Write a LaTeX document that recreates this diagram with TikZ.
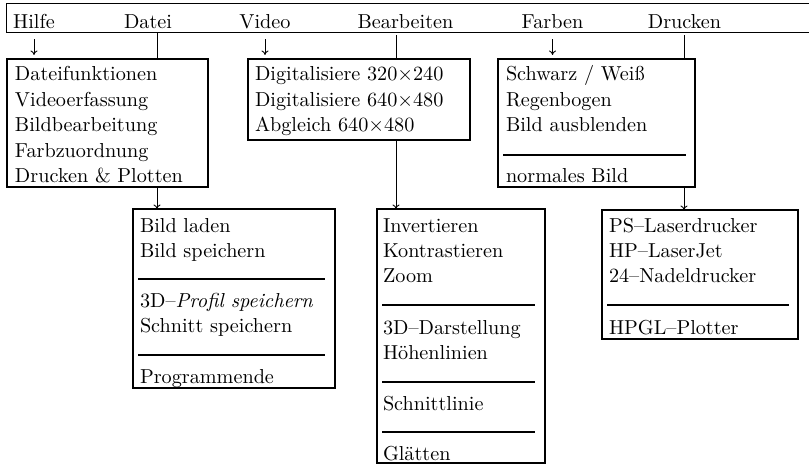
\documentclass[tikz,border=0pt]{standalone}
\usetikzlibrary{arrows.meta,fit}
\tikzset{
  px/.style={x=0.495pt,y=-0.495pt},
  box/.style={draw, line width=0.6pt, inner sep=0pt, outer sep=0pt},
  txt/.style={anchor=base west, inner sep=0pt, outer sep=0pt},
  menu/.style={anchor=base, inner sep=0pt, outer sep=0pt},
  seprule/.style={line width=1.1pt},
  conn/.style={line width=0.45pt},
  arr/.style={conn, -{To[length=2.2pt,width=3.4pt]}},
}
\begin{document}
\begin{tikzpicture}[px]
\useasboundingbox (0,0) rectangle (809,466);
% menu bar
\node[fit={(7,4)(809,32)}, inner sep=0pt] (bar) {};
\draw[line width=0.7pt] (bar.north east) -- (bar.north west) -- (bar.south west) -- (bar.south east);
\node[menu] (mHilfe) at (34,28) {Hilfe};
\node[menu] (mDatei) at (148,28) {Datei};
\node[menu] (mVideo) at (265,28) {Video};
\node[menu] (mBearb) at (405.5,28) {Bearbeiten};
\node[menu] (mFarben) at (552.5,28) {Farben};
\node[menu] (mDruck) at (684.5,28) {Drucken};
% top row boxes
\node[box, fit={(7,59)(208,187)}] (bHilfe) {};
\node[txt] (h1) at (15,80.5) {Dateifunktionen};
\node[txt] (h2) at (15,106) {Videoerfassung};
\node[txt] (h3) at (15,131.5) {Bildbearbeitung};
\node[txt] (h4) at (15,157) {Farbzuordnung};
\node[txt] (h5) at (15,182.5) {Drucken \& Plotten};
\node[box, fit={(248,59)(470,140)}] (bVideo) {};
\node[txt] (v1) at (255,80.5) {Digitalisiere 320$\times$240};
\node[txt] (v2) at (255,106) {Digitalisiere 640$\times$480};
\node[txt] (v3) at (255,131.5) {Abgleich 640$\times$480};
\node[box, fit={(498,59)(695,187)}] (bFarben) {};
\node[txt] (f1) at (506,80.5) {Schwarz / Weiß};
\node[txt] (f2) at (506,106) {Regenbogen};
\node[txt] (f3) at (506,131.5) {Bild ausblenden};
\draw[seprule] (503,155) -- (686,155);
\node[txt] (f4) at (506,182.5) {normales Bild};
% Datei submenu
\node[box, fit={(133,209)(335,388)}] (bDatei) {};
\node[txt] (d1) at (140,232) {Bild laden};
\node[txt] (d2) at (140,257) {Bild speichern};
\draw[seprule] (138,279) -- (325,279);
\node[txt] (d3) at (140,307) {3D--\textit{Profil speichern}};
\node[txt] (d4) at (140,332) {Schnitt speichern};
\draw[seprule] (138,355) -- (325,355);
\node[txt] (d5) at (140,383) {Programmende};
% Bearbeiten submenu
\node[box, fit={(377,209)(545,463)}] (bBearb) {};
\node[txt] (e1) at (383,232) {Invertieren};
\node[txt] (e2) at (383,257) {Kontrastieren};
\node[txt] (e3) at (383,282) {Zoom};
\draw[seprule] (382,305) -- (535,305);
\node[txt] (e4) at (383,334) {3D--Darstellung};
\node[txt] (e5) at (383,359) {Höhenlinien};
\draw[seprule] (382,382) -- (535,382);
\node[txt] (e6) at (383,410) {Schnittlinie};
\draw[seprule] (382,432) -- (535,432);
\node[txt] (e7) at (383,460) {Glätten};
% Drucken submenu
\node[box, fit={(602,210)(798,339)}] (bPS) {};
\node[txt] (p1) at (609,232) {PS--Laserdrucker};
\node[txt] (p2) at (609,257) {HP--LaserJet};
\node[txt] (p3) at (609,282) {24--Nadeldrucker};
\draw[seprule] (607,305) -- (789,305);
\node[txt] (p4) at (609,334) {HPGL--Plotter};
% connectors
\draw[arr, shorten <=5.4pt, shorten >=2pt] (mHilfe.south) -- (mHilfe.south |- bHilfe.north);
\draw[arr, shorten <=5.4pt, shorten >=2pt] (mVideo.south) -- (mVideo.south |- bVideo.north);
\draw[arr, shorten <=5.4pt, shorten >=2pt] (mFarben.south) -- (mFarben.south |- bFarben.north);
\coordinate (xDatei) at (157,32);
\coordinate (xBearb) at (396,35);
\coordinate (xDruck) at (684,35);
\draw[conn] (xDatei) -- (xDatei |- bHilfe.north);
\draw[arr] (xDatei |- bHilfe.south) -- (xDatei |- bDatei.north);
\draw[conn] (xBearb) -- (xBearb |- bVideo.north);
\draw[arr] (xBearb |- bVideo.south) -- (xBearb |- bBearb.north);
\draw[conn] (xDruck) -- (xDruck |- bFarben.north);
\draw[arr] (xDruck |- bFarben.south) -- (xDruck |- bPS.north);
\end{tikzpicture}
\end{document}
